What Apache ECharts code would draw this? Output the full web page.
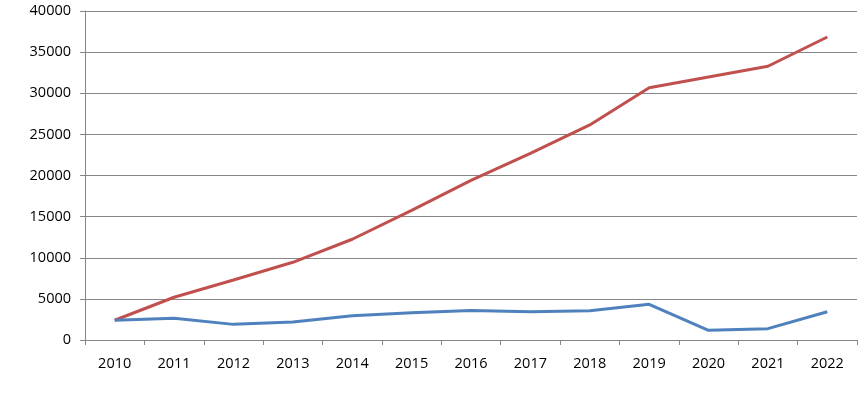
<!DOCTYPE html>
<html>
<head>
<meta charset="utf-8">
<script src="https://cdn.jsdelivr.net/npm/echarts@6/dist/echarts.min.js"></script>
<style>html,body{margin:0;padding:0;background:#fff}#c{width:861px;height:405px}</style>
</head>
<body>
<div id="c"></div>
<script>
const years = ['2010','2011','2012','2013','2014','2015','2016','2017','2018','2019','2020','2021','2022'];
const redValues = [2400, 5200, 7300, 9450, 12250, 15750, 19400, 22700, 26150, 30680, 31980, 33280, 36840];
const blueValues = [2400, 2640, 1900, 2200, 2950, 3320, 3600, 3420, 3560, 4340, 1180, 1380, 3440];
const yTicks = [0, 5000, 10000, 15000, 20000, 25000, 30000, 35000, 40000];

const chart = echarts.init(document.getElementById('c'));
const font = 'Open Sans, Liberation Sans, sans-serif';
chart.setOption({
  animation: false,
  grid: { left: 85, right: 4, top: 11, bottom: 65, containLabel: false },
  xAxis: {
    type: 'category',
    data: years,
    boundaryGap: true,
    axisLine: { lineStyle: { color: '#868686', width: 1 } },
    axisTick: { show: true, length: 5, lineStyle: { color: '#868686' } },
    axisLabel: { color: '#000', fontSize: 14.5, fontFamily: font, margin: 16 }
  },
  yAxis: {
    type: 'value',
    min: yTicks[0],
    max: yTicks[yTicks.length - 1],
    interval: 5000,
    axisLine: { show: true, lineStyle: { color: '#868686', width: 1 } },
    axisTick: { show: true, length: 5, lineStyle: { color: '#868686' } },
    splitLine: { show: true, lineStyle: { color: '#868686', width: 1 } },
    axisLabel: { color: '#000', fontSize: 14.5, fontFamily: font, margin: 14, formatter: v => String(v) }
  },
  series: [
    { type: 'line', data: redValues, symbol: 'none', lineStyle: { color: '#C0504D', width: 3 }, itemStyle: { color: '#C0504D' } },
    { type: 'line', data: blueValues, symbol: 'none', lineStyle: { color: '#4F81BD', width: 3 }, itemStyle: { color: '#4F81BD' } }
  ]
});
</script>
</body>
</html>
